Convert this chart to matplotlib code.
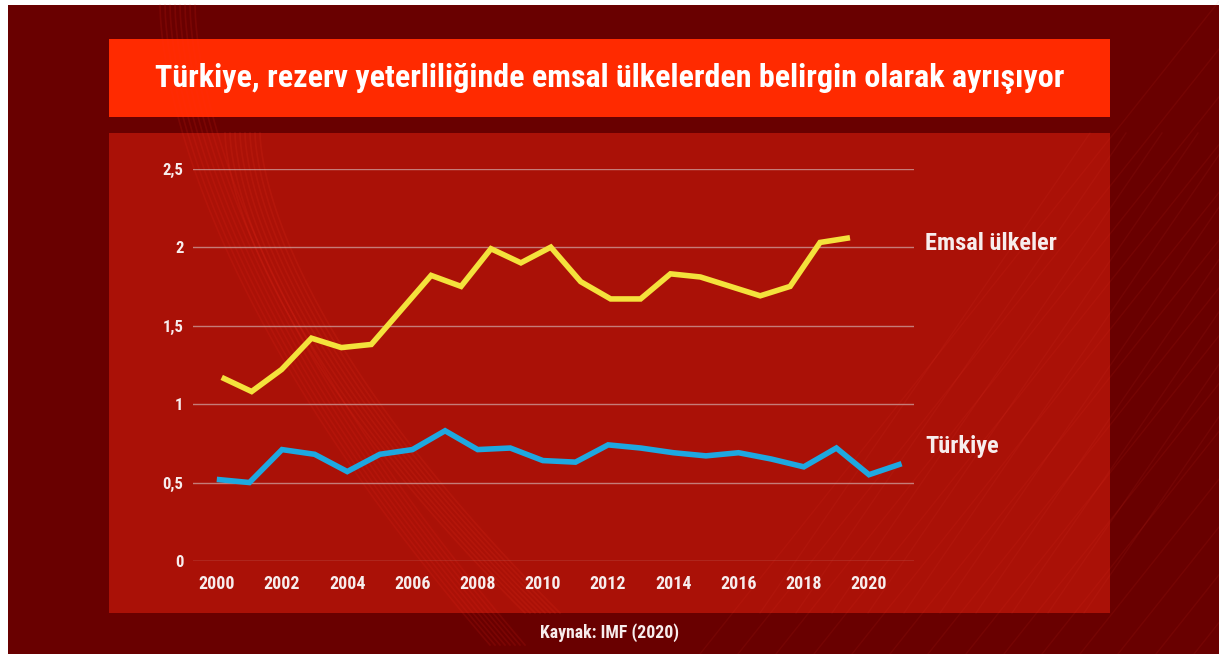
import matplotlib
matplotlib.use('Agg')
import matplotlib.pyplot as plt
from matplotlib import font_manager
from matplotlib.patches import Rectangle
import numpy as np

# ---------------- data ----------------
years = list(range(2000, 2022))
emsal_ulkeler = [1.17, 1.08, 1.22, 1.42, 1.36, 1.38, 1.60, 1.82, 1.75, 1.99, 1.90,
                 2.00, 1.78, 1.67, 1.67, 1.83, 1.81, 1.75, 1.69, 1.75, 2.03, 2.06]
turkiye = [0.52, 0.50, 0.71, 0.68, 0.57, 0.68, 0.71, 0.83, 0.71, 0.72, 0.64,
           0.63, 0.74, 0.72, 0.69, 0.67, 0.69, 0.65, 0.60, 0.72, 0.55, 0.62]
y_ticks = [0, 0.5, 1, 1.5, 2, 2.5]
y_tick_labels = ['0', '0,5', '1', '1,5', '2', '2,5']
x_ticks = list(range(2000, 2021, 2))
series_names = ['Emsal ülkeler', 'Türkiye']
title_text = 'Türkiye, rezerv yeterliliğinde emsal ülkelerden belirgin olarak ayrışıyor'
source_text = 'Kaynak: IMF (2020)'

# ---------------- fonts ----------------
names = {f.name for f in font_manager.fontManager.ttflist}
FAM, STRETCH = ['DejaVu Sans'], 'condensed'
for cand in ['Roboto Condensed', 'Liberation Sans Narrow', 'Open Sans Condensed']:
    if cand in names:
        FAM, STRETCH = [cand, 'DejaVu Sans'], 'normal'
        break
plt.rcParams['font.family'] = FAM

W, H = 1219, 654
fig = plt.figure(figsize=(W / 100, H / 100), dpi=100, facecolor='white')

OUTER = '#690000'
BANNER = '#ff2a00'
PANEL = '#aa1107'
YELLOW = '#f4e23c'
BLUE = '#1ea8e0'
TXT = '#f7eded'

# background in pixel coordinates
bg = fig.add_axes([0, 0, 1, 1], zorder=0)
bg.set_xlim(0, W)
bg.set_ylim(H, 0)
bg.axis('off')
bg.add_patch(Rectangle((8, 5), W - 8, H - 5, color=OUTER, lw=0))
# decorative faint streaks
for k in range(14):
    x0 = 700 + k * 38
    bg.plot([x0, x0 + 520], [654, 0], color='#ff4030', alpha=0.08, lw=1)
t = np.linspace(0, 1, 80)
for k in range(8):
    xs = 160 + k * 5 + 330 * t ** 1.5
    ys = 5 + 640 * t ** 0.9
    bg.plot(xs, ys, color='#ff3020', alpha=0.12, lw=1.2)
bg.add_patch(Rectangle((109, 39), 1001, 78, color=BANNER, lw=0))
bg.add_patch(Rectangle((109, 133), 1001, 480, color=PANEL, lw=0))
for k in range(8):
    xs = 225 + k * 5 + 300 * t ** 1.6
    ys = 133 + 480 * t
    bg.plot(xs, ys, color='#ff3a25', alpha=0.13, lw=1.2)
for k in range(10):
    x0 = 760 + k * 36
    bg.plot([x0, x0 + 330], [613, 133], color='#ff5040', alpha=0.07, lw=1)

# ---------------- main axes ----------------
ax_left, ax_right = 193, 914
ax_top, ax_bottom = 168.7, 561
ax = fig.add_axes([ax_left / W, 1 - ax_bottom / H, (ax_right - ax_left) / W,
                   (ax_bottom - ax_top) / H], zorder=2)
ax.set_facecolor('none')
ax.set_xlim(1999.27, 2021.38)
ax.set_ylim(0, 2.5)
ax.set_yticks(y_ticks)
ax.set_yticklabels(y_tick_labels)
ax.set_xticks(x_ticks)
ax.set_xticklabels([str(v) for v in x_ticks])
for s in ax.spines.values():
    s.set_visible(False)
ax.tick_params(axis='both', length=0, colors=TXT)
ax.tick_params(axis='y', pad=7, labelsize=12)
ax.tick_params(axis='x', pad=10, labelsize=13)
for lab in ax.get_xticklabels() + ax.get_yticklabels():
    lab.set_fontweight('bold')
    lab.set_fontstretch(STRETCH)
ax.grid(axis='y', color='#d8c4c4', alpha=0.6, lw=1)
ax.grid(axis='x', visible=False)
ax.set_axisbelow(True)

ax.plot(years, turkiye, color=BLUE, lw=4, solid_joinstyle='miter',
        solid_capstyle='butt', clip_on=False, zorder=3)

# the peer-country line is drawn over a slightly narrower span in the original
ax2 = ax.twiny()
ax2.set_xlim(1999.04, 2023.14)
ax2.axis('off')
ax2.plot(years, emsal_ulkeler, color=YELLOW, lw=4, solid_joinstyle='miter',
         solid_capstyle='butt', clip_on=False, zorder=3)

r = fig.canvas.get_renderer()


def fit(txt, target_w, max_size):
    w = txt.get_window_extent(r).width
    txt.set_fontsize(min(max_size, txt.get_fontsize() * target_w / w))


# series labels
l1 = fig.text(925 / W, 1 - 243 / H, series_names[0], color=TXT, fontsize=17,
              fontweight='bold', fontstretch=STRETCH, ha='left', va='center')
fit(l1, 132, 18)
l2 = fig.text(925 / W, 1 - 447 / H, series_names[1], color=TXT, fontsize=l1.get_fontsize(),
              fontweight='bold', fontstretch=STRETCH, ha='left', va='center')

# title fitted to width
ttl = fig.text(609.5 / W, 1 - 79 / H, title_text, color='white', fontsize=24,
               fontweight='bold', fontstretch=STRETCH, ha='center', va='center')
fit(ttl, 910, 26)

src = fig.text(609.5 / W, 1 - 633 / H, source_text, color=TXT, fontsize=12.5,
               fontweight='bold', fontstretch=STRETCH, ha='center', va='center')
fit(src, 139, 13)

fig.savefig('out.png', dpi=100, facecolor='white')
